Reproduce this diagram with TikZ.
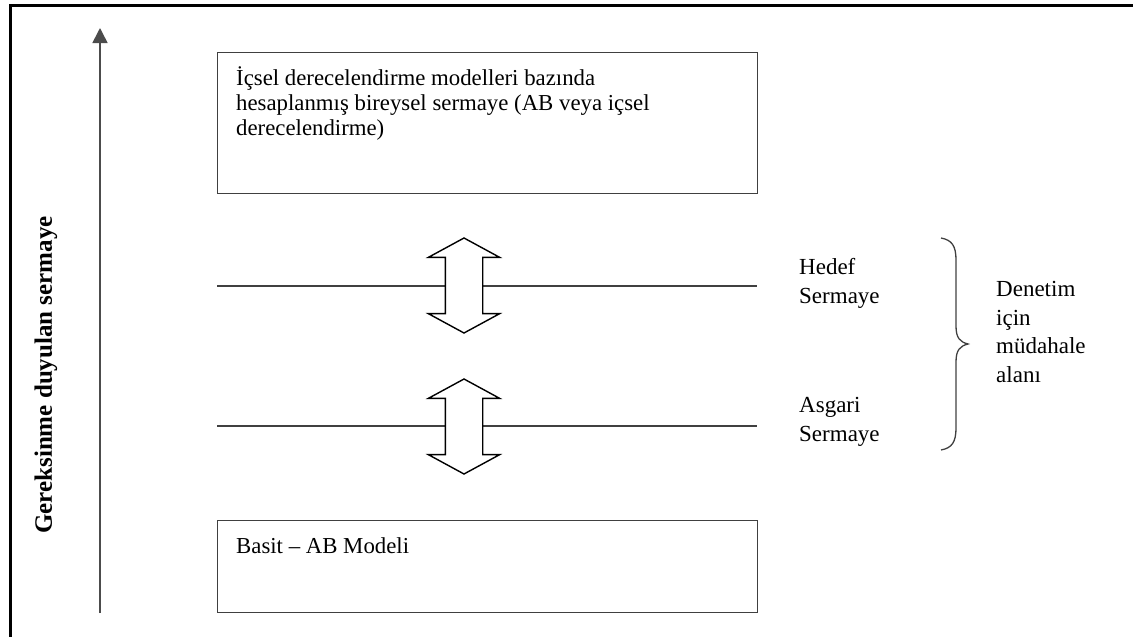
\documentclass[tikz,border=0pt]{standalone}
\usepackage{fontspec}
\setmainfont{Liberation Serif}
\usetikzlibrary{shapes.arrows,arrows.meta}
\begin{document}
\begin{tikzpicture}[x=1pt,y=-1pt,
  frameline/.style={line width=3pt,black},
  boxstyle/.style={draw=black!75,line width=1.4pt,rectangle,inner sep=0pt,anchor=north west},
  level/.style={draw=black!75,line width=1.4pt},
  axis/.style={draw=black!70,line width=1.6pt,-{Triangle[width=15pt,length=15pt]}},
  bidir/.style={shape=double arrow,rotate=90,draw=black,fill=white,line width=1.4pt,
    text height=0pt,text depth=0pt,text width=0pt,inner xsep=0pt,inner ysep=18pt,
    minimum height=95pt,double arrow head extend=17pt,double arrow tip angle=123},
  label/.style={inner sep=0pt,align=left,font=\fontsize{22.8}{25}\selectfont},
  sidetext/.style={inner sep=0pt,align=left,anchor=west,font=\fontsize{23}{28.5}\selectfont}
]
% page extent
\useasboundingbox (0,0) rectangle (1133,637);

% outer frame (top and left edges)
\coordinate (fTL) at (10,5);
\coordinate (fTR) at (1133,5);
\coordinate (fBL) at (10,637);
\draw[frameline] (fTR) -- (fTL) -- (fBL);

% vertical axis
\coordinate (axBot) at (100,613);
\coordinate (axTop) at (100,28);
\draw[axis] (axBot) -- (axTop);
\node[rotate=90,inner sep=0pt,font=\bfseries\fontsize{25}{28}\selectfont] (axlabel) at (46,375) {Gereksinme duyulan sermaye};

% top box
\node[boxstyle,minimum width=540pt,minimum height=141pt] (top) at (217,52) {};
\node[label,anchor=north west] (toptext) at (236,66)
  {İçsel derecelendirme modelleri bazında\\hesaplanmış bireysel sermaye (AB veya içsel\\derecelendirme)};

% bottom box
\node[boxstyle,minimum width=540pt,minimum height=92pt] (bottom) at (217,520) {};
\node[label,anchor=north west] (bottext) at (236,537) {Basit – AB Modeli};

% target capital level
\coordinate (hL) at (217,286);
\coordinate (hR) at (757,286);
\draw[level] (hL) -- (hR);
\node[bidir] (arrH) at (464,285.5) {};
\node[sidetext] (hedef) at (799,283.5) {Hedef\\Sermaye};

% minimum capital level
\coordinate (aL) at (217,426);
\coordinate (aR) at (757,426);
\draw[level] (aL) -- (aR);
\node[bidir] (arrA) at (464,426.5) {};
\node[sidetext] (asgari) at (799,422) {Asgari\\Sermaye};

% brace around the intervention zone
\coordinate (brTop) at (941,238);
\coordinate (brTip) at (968,344);
\coordinate (brBot) at (941,450);
\draw[draw=black!75,line width=1.3pt]
  (brTop) .. controls (952,240) and (956,246) .. (956,260) -- (956,326)
  .. controls (956,338) and (960,342) .. (brTip)
  .. controls (960,346) and (956,350) .. (956,362) -- (956,428)
  .. controls (956,442) and (952,448) .. (brBot);
\node[sidetext] (denetim) at (996,332) {Denetim\\için\\müdahale\\alanı};
\end{tikzpicture}
\end{document}
